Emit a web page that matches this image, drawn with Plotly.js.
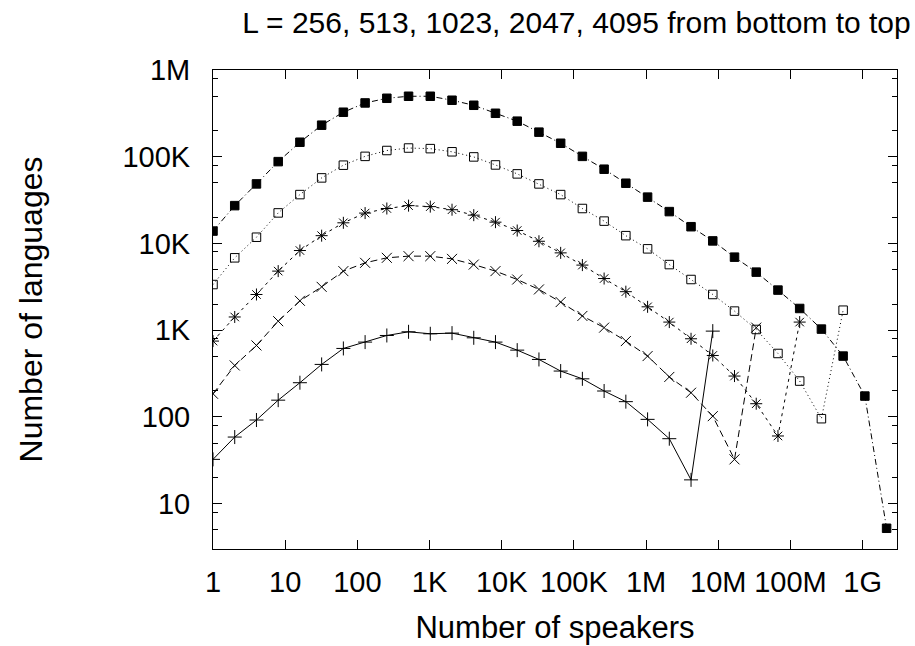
<!DOCTYPE html>
<html>
<head>
<meta charset="utf-8">
<script src="https://cdn.plot.ly/plotly-3.0.1.min.js"></script>
<style>html,body{margin:0;padding:0;background:#fff;}#chart{width:915px;height:646px;}</style>
</head>
<body>
<div id="chart"></div>
<script>
// Number of speakers (x = 2^k)
const speakers = [1, 2, 4, 8, 16, 32, 64, 128, 256, 512, 1024, 2048, 4096, 8192, 16384, 32768,
  65536, 131072, 262144, 524288, 1048576, 2097152, 4194304, 8388608, 16777216, 33554432,
  67108864, 134217728, 268435456, 536870912, 1073741824, 2147483648];

const seriesNames = ["L = 256", "L = 513", "L = 1023", "L = 2047", "L = 4095"];

const langs256 = [32.4, 58.6, 92.1, 156, 248, 403, 616, 729, 869, 958, 909, 925, 817, 729, 589, 460,
  338, 275, 199, 150, 93.7, 56.1, 18.8, 976];
const langs513 = [185, 392, 667, 1270, 2180, 3160, 4800, 5980, 6830, 7140, 7140, 6640, 5710, 4800, 3840, 2950,
  2110, 1460, 1070, 749, 503, 289, 190, 102, 32.4, 1070];
const langs1023 = [749, 1420, 2580, 4800, 8290, 12300, 17300, 22400, 25300, 27300, 26600, 24500, 21200, 17600, 14100, 10600,
  7790, 5630, 3940, 2780, 1860, 1240, 796, 511, 296, 142, 60.3, 1240];
const langs2047 = [3360, 6830, 11800, 22500, 36600, 57000, 79900, 101000, 118000, 126000, 124000, 114000, 99500, 80400, 63400, 48600,
  36600, 25300, 18100, 12300, 8670, 5710, 3840, 2580, 1660, 1019, 539, 259, 95.4, 1700];
const langs4095 = [13900, 27300, 48600, 87800, 147000, 231000, 326000, 417000, 472000, 498000, 498000, 448000, 392000, 317000, 257000, 192000,
  143000, 101000, 71800, 49500, 34200, 23300, 15600, 10700, 6950, 4670, 2900, 1780, 1030, 503, 174, 5.2];

const xTickVals = [1, 10, 100, 1e3, 1e4, 1e5, 1e6, 1e7, 1e8, 1e9];
const xTickText = ["1", "10", "100", "1K", "10K", "100K", "1M", "10M", "100M", "1G"];
const yTickVals = [10, 100, 1e3, 1e4, 1e5, 1e6];
const yTickText = ["10", "100", "1K", "10K", "100K", "1M"];
const yMinorVals = [5, 8, 20, 50, 80, 200, 500, 800, 2e3, 5e3, 8e3, 2e4, 5e4, 8e4, 2e5, 5e5, 8e5];

const allData = [langs256, langs513, langs1023, langs2047, langs4095];
const dashes = ["solid", "7px,4px", "3px,4px", "1px,3px", "6px,3px,1px,3px"];
const symbols = ["cross-thin-open", "x-thin-open", "asterisk-open", "square-open", "square"];
const sizes = [10, 10, 10, 8.5, 8.5];

const traces = allData.map((ys, i) => ({
  x: speakers.slice(0, ys.length),
  y: ys,
  name: seriesNames[i],
  type: "scatter",
  mode: "lines+markers",
  line: {color: "#000", width: 1, dash: dashes[i]},
  marker: {symbol: symbols[i], size: sizes[i], color: "#000", line: {color: "#000", width: 1}},
  showlegend: false
}));

const fontFamily = "Liberation Sans, Arial, Helvetica, sans-serif";

const layout = {
  width: 915, height: 646,
  paper_bgcolor: "#fff", plot_bgcolor: "#fff",
  margin: {l: 213, r: 18, t: 70, b: 97, pad: 0},
  font: {family: fontFamily, size: 29, color: "#000"},
  title: {
    text: "L = 256, 513, 1023, 2047, 4095 from bottom to top",
    font: {family: fontFamily, size: 30, color: "#000"},
    xref: "container", yref: "container",
    x: 0.63, xanchor: "center", y: 0.965, yanchor: "middle"
  },
  xaxis: {
    type: "log",
    range: [0, 9.476],
    tickmode: "array", tickvals: xTickVals, ticktext: xTickText,
    ticks: "inside", ticklen: 9, tickwidth: 1, tickcolor: "#000",
    showline: true, linecolor: "#000", linewidth: 1, mirror: "allticks",
    showgrid: false, zeroline: false,
    ticklabelstandoff: 7,
    tickfont: {family: fontFamily, size: 29, color: "#000"},
    title: {text: "Number of speakers", font: {family: fontFamily, size: 31, color: "#000"}, standoff: 19}
  },
  yaxis: {
    type: "log",
    range: [Math.log10(3), 6],
    tickmode: "array", tickvals: yTickVals, ticktext: yTickText,
    ticks: "inside", ticklen: 9, tickwidth: 1, tickcolor: "#000",
    minor: {tickmode: "array", tickvals: yMinorVals, ticks: "inside", ticklen: 5, tickwidth: 1, tickcolor: "#000", showgrid: false},
    showline: true, linecolor: "#000", linewidth: 1, mirror: "allticks",
    showgrid: false, zeroline: false,
    ticklabelstandoff: 16,
    tickfont: {family: fontFamily, size: 29, color: "#000"},
    title: {text: "Number of languages", font: {family: fontFamily, size: 32, color: "#000"}, standoff: 70}
  }
};

Plotly.newPlot("chart", traces, layout, {displayModeBar: false, staticPlot: true});
</script>
</body>
</html>
